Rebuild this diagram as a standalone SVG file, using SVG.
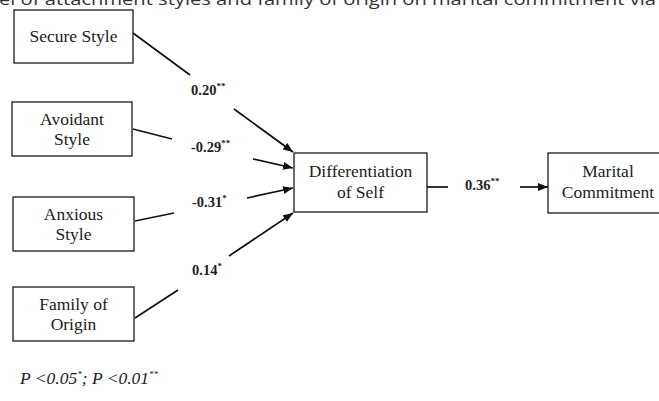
<svg xmlns="http://www.w3.org/2000/svg" width="659" height="401" viewBox="0 0 659 401">
<style>
.box{fill:#fff;stroke:#1a1a1a;stroke-width:1.3}
.lbl{font-family:"Liberation Serif","Times New Roman",serif;font-size:17.5px;fill:#222;text-anchor:middle}
.coef{font-family:"Liberation Serif","Times New Roman",serif;font-size:14.5px;font-weight:bold;fill:#222}
.sup{font-size:9px}
.ln{stroke:#111;stroke-width:1.7;fill:none}
.title{font-family:"Open Sans","Noto Sans",sans-serif;font-size:17px;fill:#333}
.note{font-family:"Liberation Serif","Times New Roman",serif;font-size:17.5px;font-style:italic;fill:#222}
</style>
<defs>
<marker id="ah" viewBox="0 0 10 8" refX="10" refY="4" markerWidth="10" markerHeight="8" markerUnits="userSpaceOnUse" orient="auto">
<path d="M0,0 L10,4 L0,8 Z" fill="#111"/>
</marker>
</defs>
<rect width="659" height="401" fill="#fff"/>
<text class="title" x="-1" y="5" textLength="657" lengthAdjust="spacingAndGlyphs">el of attachment styles and family of origin on marital commitment via</text>

<g id="secure"><rect class="box" x="14" y="10" width="119" height="53"/><text class="lbl" x="73.5" y="42">Secure Style</text></g>
<g id="avoidant"><rect class="box" x="12" y="102" width="120" height="54"/><text class="lbl" x="72" y="125">Avoidant</text><text class="lbl" x="72" y="145">Style</text></g>
<g id="anxious"><rect class="box" x="13" y="197" width="121" height="54"/><text class="lbl" x="73.5" y="220">Anxious</text><text class="lbl" x="73.5" y="240">Style</text></g>
<g id="family"><rect class="box" x="13" y="287" width="121" height="54"/><text class="lbl" x="73.5" y="310">Family of</text><text class="lbl" x="73.5" y="330">Origin</text></g>
<g id="diff"><rect class="box" x="294" y="153" width="133" height="59"/><text class="lbl" x="360.5" y="177">Differentiation</text><text class="lbl" x="360.5" y="198">of Self</text></g>
<g id="marital"><rect class="box" x="548" y="153" width="120" height="60"/><text class="lbl" x="608" y="177">Marital</text><text class="lbl" x="608" y="198">Commitment</text></g>

<g id="connectors">
<line class="ln" x1="133" y1="33" x2="190" y2="75"/>
<line class="ln" x1="234" y1="109" x2="293" y2="152" marker-end="url(#ah)"/>
<line class="ln" x1="133" y1="129" x2="172" y2="139"/>
<line class="ln" x1="253" y1="159" x2="293" y2="168" marker-end="url(#ah)"/>
<line class="ln" x1="135" y1="221" x2="174" y2="213"/>
<line class="ln" x1="247" y1="198" x2="293" y2="188" marker-end="url(#ah)"/>
<line class="ln" x1="135" y1="318" x2="178" y2="290"/>
<line class="ln" x1="229" y1="256" x2="293" y2="213" marker-end="url(#ah)"/>
<line class="ln" x1="427" y1="187" x2="448" y2="187"/>
<line class="ln" x1="520" y1="187" x2="548" y2="187" marker-end="url(#ah)"/>
<text class="coef" x="191" y="95">0.20<tspan class="sup" dy="-6">**</tspan></text>
<text class="coef" x="191" y="152">-0.29<tspan class="sup" dy="-6">**</tspan></text>
<text class="coef" x="192" y="207">-0.31<tspan class="sup" dy="-6">*</tspan></text>
<text class="coef" x="192" y="275">0.14<tspan class="sup" dy="-6">*</tspan></text>
<text class="coef" x="465" y="190">0.36<tspan class="sup" dy="-6">**</tspan></text>
</g>

<text class="note" x="20" y="384">P &lt;0.05<tspan class="sup" dy="-7">*</tspan><tspan dy="7">; P &lt;0.01</tspan><tspan class="sup" dy="-7">**</tspan></text>
</svg>
